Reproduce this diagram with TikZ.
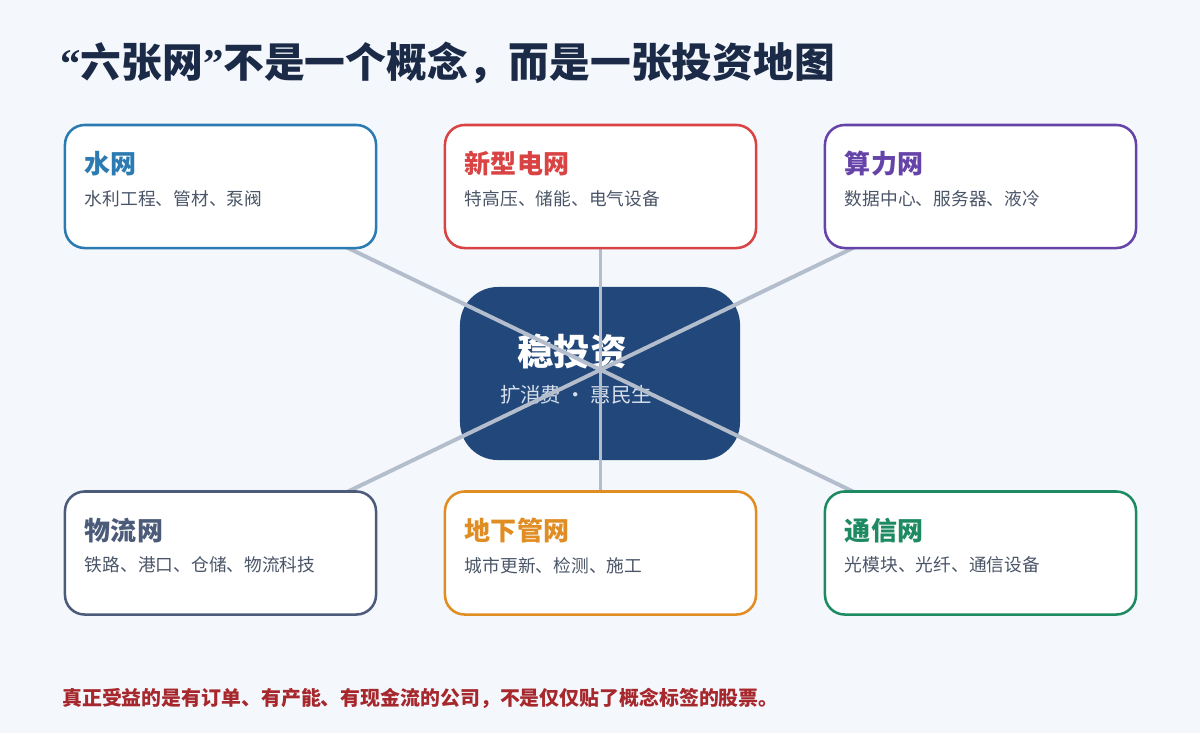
\documentclass[tikz,border=0pt]{standalone}
\usepackage{fontspec}
\setmainfont{Noto Sans CJK SC}
\newfontfamily\quotefont{Liberation Serif}
\usepackage{xcolor}
\usepackage{tikz}
\usetikzlibrary{positioning, calc}

\definecolor{pagebg}{HTML}{F4F8FC}
\definecolor{titlenavy}{HTML}{1B2A47}
\definecolor{hubblue}{HTML}{22477A}
\definecolor{hubsub}{HTML}{D6DFEC}
\definecolor{linkgray}{HTML}{B3BDCC}
\definecolor{subgray}{HTML}{4A5568}
\definecolor{waterblue}{HTML}{2B7BB2}
\definecolor{gridred}{HTML}{D94343}
\definecolor{computepurple}{HTML}{6543A8}
\definecolor{logislate}{HTML}{4C5B7A}
\definecolor{pipeorange}{HTML}{E08D24}
\definecolor{commgreen}{HTML}{1E8A62}
\definecolor{footred}{HTML}{A6282D}

\pgfdeclarelayer{bg}
\pgfdeclarelayer{links}
\pgfsetlayers{bg,links,main}

\begin{document}
\begin{tikzpicture}[
    x=0.025cm, y=-0.025cm,
    netbox/.style={draw=#1, line width=1.8pt, fill=white, rounded corners=14pt,
                   minimum width=7.775cm, minimum height=3.075cm},
    nethead/.style={anchor=west, inner sep=0pt, text=#1,
                    font=\fontsize{18.5}{22}\selectfont\bfseries},
    netsub/.style={anchor=west, inner sep=0pt, text=subgray,
                   font=\fontsize{12.6}{15}\selectfont},
    link/.style={draw=linkgray, line width=2.8pt}
  ]
    \begin{pgfonlayer}{bg}
      \fill[pagebg] (0,0) rectangle (1200,733);
      \node[fill=hubblue, rounded corners=27pt, minimum width=7cm,
            minimum height=4.325cm] (hub) at (600,373.5) {};
      \node[text=white, font=\fontsize{26}{30}\selectfont\bfseries] (hubhead)
        at (572,352) {稳投资};
      \node[text=hubsub, font=\fontsize{14.5}{17}\selectfont] (hubsub)
        at (576,395) {扩消费 · 惠民生};
    \end{pgfonlayer}

    \node[anchor=west, inner sep=0pt, text=titlenavy,
          font=\fontsize{29}{34}\selectfont\bfseries] (title) at (60,63)
      {{\quotefont “}六张网{\quotefont ”}不是一个概念，而是一张投资地图};

    % top row
    \node[netbox=waterblue] (water) at (220.5,186.5) {};
    \node[nethead=waterblue] at ($(water.north west)+(21,40)$) {水网};
    \node[netsub] at ($(water.north west)+(21,75)$) {水利工程、管材、泵阀};

    \node[netbox=gridred] (grid) at (600.5,186.5) {};
    \node[nethead=gridred] at ($(grid.north west)+(21,40)$) {新型电网};
    \node[netsub] at ($(grid.north west)+(21,75)$) {特高压、储能、电气设备};

    \node[netbox=computepurple] (compute) at (980.5,186.5) {};
    \node[nethead=computepurple] at ($(compute.north west)+(21,40)$) {算力网};
    \node[netsub] at ($(compute.north west)+(21,75)$) {数据中心、服务器、液冷};

    % bottom row
    \node[netbox=logislate] (logis) at (220.5,553) {};
    \node[nethead=logislate] at ($(logis.north west)+(21,40)$) {物流网};
    \node[netsub] at ($(logis.north west)+(21,75)$) {铁路、港口、仓储、物流科技};

    \node[netbox=pipeorange] (pipe) at (600.5,553) {};
    \node[nethead=pipeorange] at ($(pipe.north west)+(21,40)$) {地下管网};
    \node[netsub] at ($(pipe.north west)+(21,75)$) {城市更新、检测、施工};

    \node[netbox=commgreen] (comm) at (980.5,553) {};
    \node[nethead=commgreen] at ($(comm.north west)+(21,40)$) {通信网};
    \node[netsub] at ($(comm.north west)+(21,75)$) {光模块、光纤、通信设备};

    \begin{pgfonlayer}{links}
      \draw[link] (water.center) -- (comm.center);
      \draw[link] (compute.center) -- (logis.center);
      \draw[link] (grid.center) -- (pipe.center);
    \end{pgfonlayer}

    \node[anchor=west, inner sep=0pt, text=footred,
          font=\fontsize{14.15}{17}\selectfont\bfseries] (foot) at (62,698)
      {真正受益的是有订单、有产能、有现金流的公司，不是仅仅贴了概念标签的股票。};
  \end{tikzpicture}
\end{document}
